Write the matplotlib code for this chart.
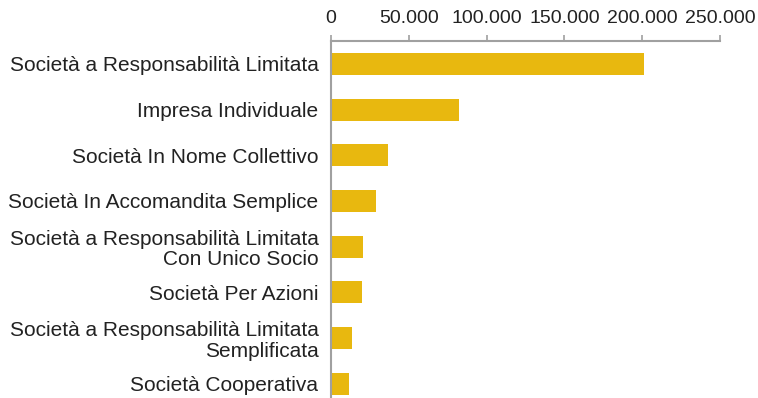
import matplotlib.pyplot as plt
from matplotlib.ticker import FuncFormatter

# Data
categories = [
    "Società a Responsabilità Limitata",
    "Impresa Individuale",
    "Società In Nome Collettivo",
    "Società In Accomandita Semplice",
    "Società a Responsabilità Limitata\nCon Unico Socio",
    "Società Per Azioni",
    "Società a Responsabilità Limitata\nSemplificata",
    "Società Cooperativa",
]
values = [201300, 82400, 36600, 28900, 20800, 19700, 13300, 11800]
x_ticks = [0, 50000, 100000, 150000, 200000, 250000]

BAR_COLOR = "#E8B80F"
AXIS_COLOR = "#A0A0A0"
TEXT_COLOR = "#222222"

plt.rcParams["font.family"] = ["Liberation Sans", "DejaVu Sans"]

fig = plt.figure(figsize=(7.58, 3.98), dpi=100)
ax = fig.add_axes([331 / 758, 0.0, 389 / 758, 1 - 41 / 398])

y = list(range(len(categories)))
ax.barh(y, values, height=0.48, color=BAR_COLOR)

ax.set_xlim(0, 250000)
ax.set_ylim(7.31, -0.5)

ax.set_yticks(y)
ax.set_yticklabels(categories, fontsize=15, color=TEXT_COLOR,
                   linespacing=1.12)
ax.tick_params(axis="y", length=0, pad=9)

ax.xaxis.tick_top()
ax.set_xticks(x_ticks)
ax.xaxis.set_major_formatter(
    FuncFormatter(lambda v, _: f"{int(v):,}".replace(",", "."))
)
ax.tick_params(axis="x", length=4, width=1.2, color=AXIS_COLOR,
               labelsize=14, labelcolor=TEXT_COLOR, pad=6)

for side in ("right", "bottom"):
    ax.spines[side].set_visible(False)
for side in ("top", "left"):
    ax.spines[side].set_color(AXIS_COLOR)
    ax.spines[side].set_linewidth(1.5)

fig.savefig("out.png", dpi=100)
